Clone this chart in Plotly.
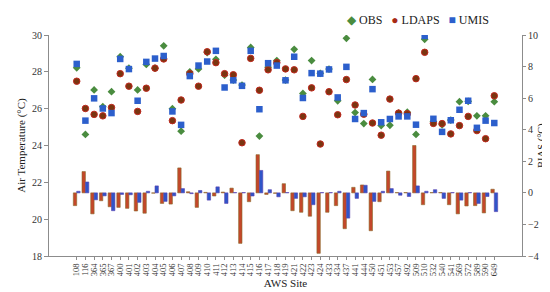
import plotly.graph_objects as go

sites = ["108", "116", "364", "365", "367", "400", "401", "402", "403", "404",
         "405", "406", "407", "408", "409", "410", "411", "412", "413", "414",
         "415", "416", "417", "418", "419", "421", "422", "423", "424", "433",
         "434", "437", "441", "444", "450", "451", "453", "457", "492", "509",
         "510", "532", "540", "541", "569", "572", "589", "590", "649"]

obs = [28.22, 24.60, 27.02, 26.11, 26.92, 28.82, 28.20, 27.02, 28.40, 28.20,
       29.41, 26.00, 24.78, 27.99, 28.16, 29.05, 28.68, 27.82, 27.55, 27.28,
       29.32, 24.51, 28.25, 28.61, 27.55, 29.22, 26.83, 28.61, 27.92, 28.15,
       26.43, 29.82, 25.79, 25.19, 27.59, 25.08, 25.10, 25.76, 25.81, 24.60,
       29.77, 25.30, 25.12, 25.38, 26.38, 26.40, 25.61, 25.61, 26.38]

ldaps = [27.49, 26.01, 25.69, 25.61, 26.06, 27.90, 27.22, 25.85, 27.11, 28.20,
         28.70, 25.35, 26.47, 27.90, 27.22, 29.09, 28.50, 27.90, 27.84, 24.15,
         28.73, 27.00, 28.11, 28.50, 28.16, 28.11, 25.58, 27.13, 24.08, 26.92,
         25.67, 27.58, 26.20, 25.70, 25.22, 24.56, 26.52, 25.76, 25.72, 27.63,
         29.06, 25.20, 25.19, 24.63, 25.08, 25.58, 24.81, 24.37, 26.70]

umis = [28.43, 25.35, 26.56, 26.01, 25.76, 28.70, 28.15, 26.43, 28.54, 28.72,
        28.86, 25.85, 25.12, 27.77, 28.34, 28.56, 29.14, 27.15, 27.54, 27.24,
        29.14, 25.97, 28.47, 28.34, 27.54, 28.82, 26.58, 27.93, 27.90, 28.13,
        26.61, 28.27, 25.44, 25.76, 27.06, 25.26, 25.44, 25.58, 25.58, 25.13,
        29.95, 25.45, 24.74, 25.37, 25.94, 26.43, 24.96, 25.35, 25.22]

ldaps_bias = [-0.81, 1.35, -1.33, -0.50, -0.88, -0.92, -0.98, -1.15, -1.29, -0.02,
              -0.67, -0.71, 1.58, 0.07, -0.92, 0.03, -0.20, 0.05, 0.30, -3.20,
              -0.56, 2.42, -0.10, -0.03, 0.58, -1.13, -1.23, -1.48, -3.83, -1.23,
              -0.81, -2.27, 0.35, 0.50, -2.40, -0.56, 1.38, 0.02, 0.02, 3.00,
              -0.75, 0.02, 0.02, -0.75, -1.33, -0.83, -0.81, -1.27, 0.23]

umis_bias = [0.10, 0.69, -0.44, -0.19, -1.13, -0.10, -0.12, -0.60, 0.10, 0.44,
             -0.54, -0.19, 0.27, -0.05, 0.15, -0.46, 0.38, -0.67, 0.02, 0.02,
             -0.20, 1.42, 0.20, -0.25, 0.02, -0.35, -0.25, -0.75, 0.02, 0.02,
             0.10, -1.60, -0.35, 0.48, -0.54, 0.10, 0.27, -0.15, -0.23, 0.44,
             0.10, 0.20, -0.35, 0.02, -0.46, 0.02, -0.67, -0.23, -1.19]

FONT = "Liberation Serif, Times New Roman, serif"
C_OBS = "#4a8c3f"
C_LDAPS = "#7a3510"
C_UMIS = "#2c5fcc"

fig = go.Figure()

# bias bars on the right axis (base axis, drawn underneath)
fig.add_trace(go.Bar(x=sites, y=ldaps_bias, name="LDAPS bias", yaxis="y",
                     marker=dict(color="#c4472a", line=dict(color="#8a6a2a", width=0.6)),
                     showlegend=False))
fig.add_trace(go.Bar(x=sites, y=umis_bias, name="UMIS bias", yaxis="y",
                     marker=dict(color="#2f55c8", line=dict(color="#5a42b0", width=0.6)),
                     showlegend=False))

# temperatures on the left axis
fig.add_trace(go.Scatter(x=sites, y=obs, name="OBS", mode="markers", yaxis="y2",
                         marker=dict(symbol="diamond", size=6, color=C_OBS),
                         showlegend=False))
fig.add_trace(go.Scatter(x=sites, y=ldaps, name="LDAPS", mode="markers", yaxis="y2",
                         marker=dict(symbol="circle", size=6.5, color=C_LDAPS,
                                     line=dict(color="#c0281e", width=1)),
                         showlegend=False))
fig.add_trace(go.Scatter(x=sites, y=umis, name="UMIS", mode="markers", yaxis="y2",
                         marker=dict(symbol="square", size=6.5, color=C_UMIS),
                         showlegend=False))

axis_common = dict(showline=True, linecolor="#8c8c8c", linewidth=1, ticks="outside",
                   tickcolor="#8c8c8c", showgrid=False, zeroline=False,
                   tickfont=dict(family=FONT, size=10, color="#333"))

fig.update_layout(
    width=550, height=292,
    margin=dict(l=33, r=36, t=27, b=40),
    paper_bgcolor="white", plot_bgcolor="white",
    font=dict(family=FONT, size=11, color="#222"),
    barmode="group", bargap=0.22, bargroupgap=0,
    xaxis=dict(type="category", tickmode="array", tickvals=sites, ticktext=sites,
               tickangle=-90, showline=True, linecolor="#8c8c8c",
               ticks="outside", tickcolor="#8c8c8c", ticklen=3, showgrid=False,
               tickfont=dict(family=FONT, size=8.5, color="#333"),
               title=dict(text="AWS Site", font=dict(family=FONT, size=11), standoff=4)),
    yaxis=dict(side="right", range=[-4, 10], dtick=2, ticklen=3, automargin=False,
               title=dict(text="BIAS (°C)", font=dict(family=FONT, size=10.5), standoff=0),
               **axis_common),
    yaxis2=dict(side="left", overlaying="y", range=[18, 30], dtick=2, ticklen=4,
                title=dict(text="Air Temperature (°C)", font=dict(family=FONT, size=11), standoff=4),
                **axis_common),
)

legend_text = (f'<span style="color:{C_OBS}">◆</span> OBS   '
               f'<span style="color:#a82a14">●</span> LDAPS   '
               f'<span style="color:{C_UMIS}">■</span> UMIS')
fig.add_annotation(text=legend_text, xref="paper", yref="paper", x=0.935, y=1.07,
                   xanchor="right", yanchor="middle", showarrow=False,
                   font=dict(family=FONT, size=12, color="#222"))

fig.write_html("out.html")
